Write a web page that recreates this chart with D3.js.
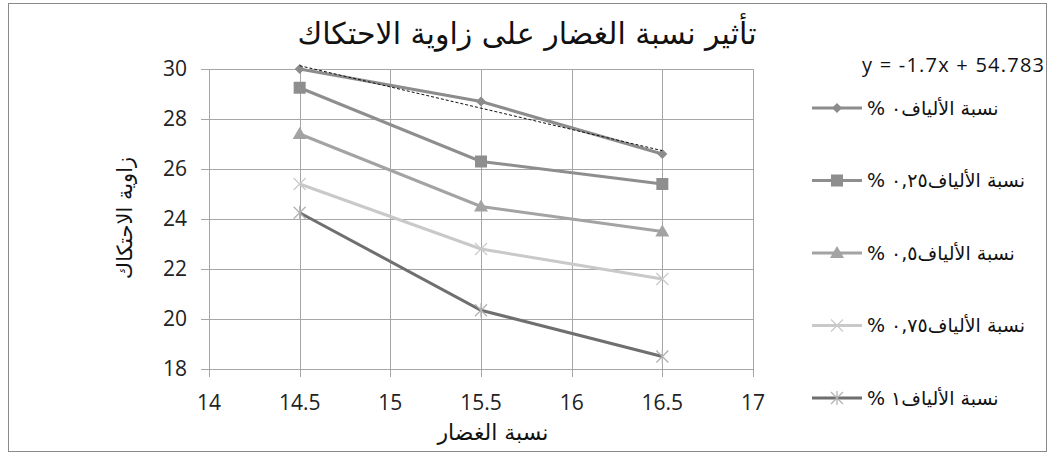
<!DOCTYPE html>
<html>
<head>
<meta charset="utf-8">
<script src="https://cdn.jsdelivr.net/npm/d3@7"></script>
<style>
  body { margin: 0; background: #fff; }
  svg { display: block; }
</style>
</head>
<body>
<svg id="chart" width="1052" height="455"></svg>
<script>
// data
const clayPct = [14.5, 15.5, 16.5];
const fiber0 = [30, 28.7, 26.6];
const fiber025 = [29.25, 26.3, 25.4];
const fiber05 = [27.4, 24.5, 23.5];
const fiber075 = [25.4, 22.8, 21.6];
const fiber1 = [24.25, 20.35, 18.5];
const seriesNames = ['نسبة الألياف٠ %', 'نسبة الألياف٠,٢٥ %', 'نسبة الألياف٠,٥ %', 'نسبة الألياف٠,٧٥ %', 'نسبة الألياف١ %'];
const xTicks = [14, 14.5, 15, 15.5, 16, 16.5, 17];
const yTicks = [18, 20, 22, 24, 26, 28, 30];
const trendSlope = -1.7;
const trendIntercept = 54.783;

const svg = d3.select('#chart');
const arabicFont = '"DejaVu Sans", "Liberation Sans", sans-serif';
const numFont = '"Open Sans", "Liberation Sans", sans-serif';

// outer frame
svg.append('rect')
    .attr('x', 8.5).attr('y', 3.5)
    .attr('width', 1038).attr('height', 448)
    .attr('fill', '#fff').attr('stroke', '#8a8a8a');

const x = d3.scaleLinear().domain([14, 17]).range([209, 753]);
const y = d3.scaleLinear().domain([18, 30]).range([369, 69]);

// gridlines
const g = svg.append('g');
g.selectAll('.hgrid').data(yTicks).join('line')
    .attr('x1', x(14) - 8).attr('x2', x(17))
    .attr('y1', d => Math.round(y(d)) + 0.5).attr('y2', d => Math.round(y(d)) + 0.5)
    .attr('stroke', '#a6a6a6');
g.selectAll('.vgrid').data(xTicks).join('line')
    .attr('y1', y(30)).attr('y2', y(18) + 8)
    .attr('x1', d => Math.round(x(d)) + 0.5).attr('x2', d => Math.round(x(d)) + 0.5)
    .attr('stroke', '#a6a6a6');

// tick labels
g.selectAll('.ylab').data(yTicks).join('text')
    .attr('x', x(14) - 22).attr('y', d => y(d))
    .attr('dy', '0.35em')
    .attr('text-anchor', 'end')
    .attr('font-family', numFont).attr('font-size', 21)
    .attr('fill', '#222')
    .text(d => d);
g.selectAll('.xlab').data(xTicks).join('text')
    .attr('x', d => x(d)).attr('y', 410)
    .attr('text-anchor', 'middle')
    .attr('font-family', numFont).attr('font-size', 21)
    .attr('fill', '#222')
    .text(d => d);

// titles
svg.append('text')
    .attr('x', 527).attr('y', 44)
    .attr('text-anchor', 'middle')
    .attr('font-family', arabicFont).attr('font-size', 30)
    .attr('fill', '#111')
    .text('تأثير نسبة الغضار على زاوية الاحتكاك');
svg.append('text')
    .attr('x', 493).attr('y', 440)
    .attr('text-anchor', 'middle')
    .attr('font-family', arabicFont).attr('font-size', 22)
    .attr('fill', '#111')
    .text('نسبة الغضار');
svg.append('text')
    .attr('transform', 'translate(132,218) rotate(-90)')
    .attr('text-anchor', 'middle')
    .attr('font-family', arabicFont).attr('font-size', 21)
    .attr('fill', '#111')
    .text('زاوية الاحتكاك');

// series
const series = [
    { name: seriesNames[0], values: fiber0, color: '#8c8c8c', marker: 'diamond', mcolor: '#8c8c8c' },
    { name: seriesNames[1], values: fiber025, color: '#8e8e8e', marker: 'square', mcolor: '#8e8e8e' },
    { name: seriesNames[2], values: fiber05, color: '#a3a3a3', marker: 'triangle', mcolor: '#a3a3a3' },
    { name: seriesNames[3], values: fiber075, color: '#c9c9c9', marker: 'cross', mcolor: '#c9c9c9' },
    { name: seriesNames[4], values: fiber1, color: '#6f6f6f', marker: 'star', mcolor: '#b0b0b0' }
];

const line = d3.line().x(d => x(d[0])).y(d => y(d[1]));

function drawMarker (sel, type, color, cx, cy) {
    if (type === 'diamond') {
        sel.append('path').attr('d', `M${cx},${cy - 5}L${cx + 5},${cy}L${cx},${cy + 5}L${cx - 5},${cy}Z`).attr('fill', color);
    } else if (type === 'square') {
        sel.append('rect').attr('x', cx - 6).attr('y', cy - 6).attr('width', 12).attr('height', 12).attr('fill', color);
    } else if (type === 'triangle') {
        sel.append('path').attr('d', `M${cx},${cy - 7}L${cx + 7},${cy + 5}L${cx - 7},${cy + 5}Z`).attr('fill', color);
    } else {
        const r = 6;
        let d = `M${cx - r},${cy - r}L${cx + r},${cy + r}M${cx - r},${cy + r}L${cx + r},${cy - r}`;
        if (type === 'star') d += `M${cx},${cy - r - 1}L${cx},${cy + r + 1}`;
        sel.append('path').attr('d', d).attr('stroke', color).attr('stroke-width', 1.2).attr('fill', 'none');
    }
}

series.slice().reverse().forEach(s => {
    const pts = clayPct.map((c, i) => [c, s.values[i]]);
    g.append('path').datum(pts)
        .attr('d', line)
        .attr('fill', 'none')
        .attr('stroke', s.color)
        .attr('stroke-width', 3);
    pts.forEach(p => drawMarker(g, s.marker, s.mcolor, x(p[0]), y(p[1])));
});

// linear trendline for fiber 0 %
const trendPts = [clayPct[0], clayPct[clayPct.length - 1]].map(c => [c, trendSlope * c + trendIntercept]);
g.append('path').datum(trendPts)
    .attr('d', line)
    .attr('fill', 'none')
    .attr('stroke', '#111')
    .attr('stroke-width', 1)
    .attr('stroke-dasharray', '3,2');

svg.append('text')
    .attr('x', 862).attr('y', 72)
    .attr('font-family', numFont).attr('font-size', 20)
    .attr('textLength', 182)
    .attr('fill', '#111')
    .text(`y = ${trendSlope}x + ${trendIntercept}`);

// legend
const legend = svg.append('g');
series.forEach((s, i) => {
    const ly = 108 + i * 72.5;
    legend.append('line')
        .attr('x1', 812).attr('x2', 862).attr('y1', ly).attr('y2', ly)
        .attr('stroke', s.color).attr('stroke-width', 3);
    drawMarker(legend, s.marker, s.mcolor, 837, ly);
    legend.append('text')
        .attr('x', 867).attr('y', ly)
        .attr('dy', '0.35em')
        .attr('direction', 'rtl')
        .attr('text-anchor', 'end')
        .attr('font-family', arabicFont).attr('font-size', 19)
        .attr('fill', '#111')
        .text(s.name);
});
</script>
</body>
</html>
